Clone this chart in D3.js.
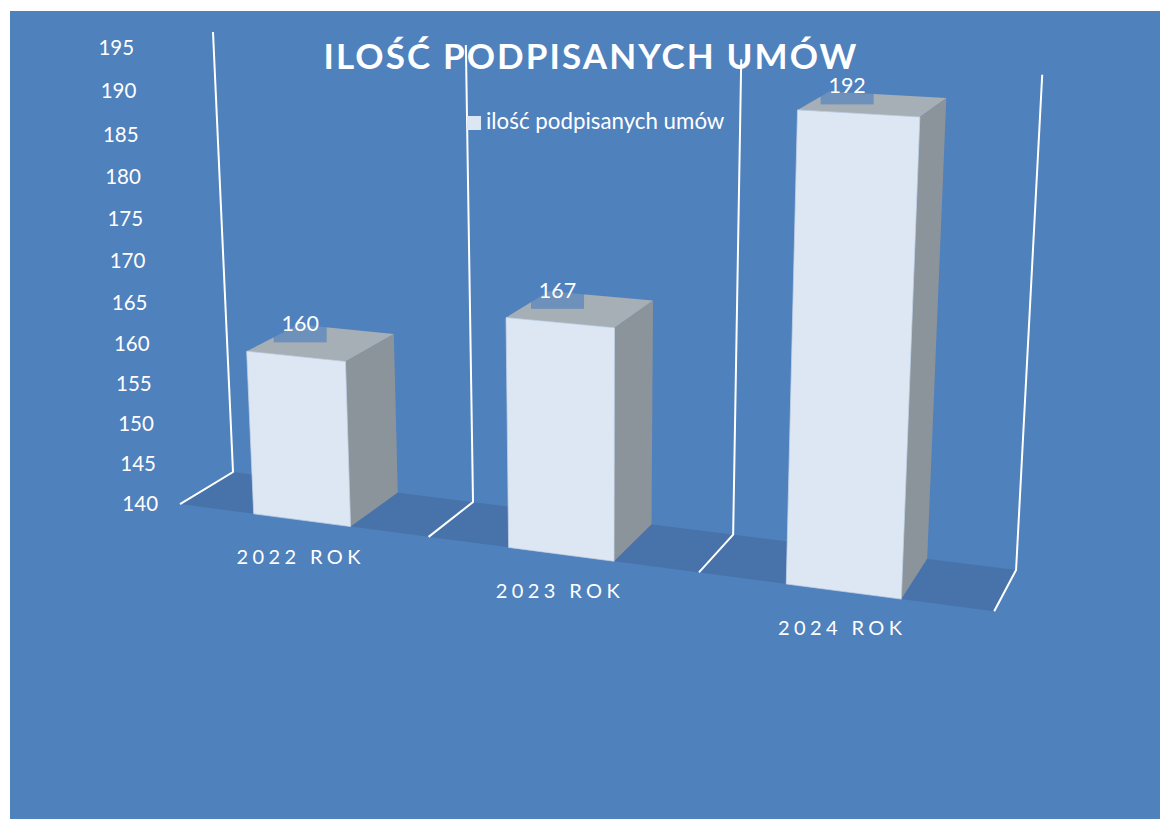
<!doctype html>
<html>
  <head>
    <meta charset="utf-8">
    <script src="https://cdnjs.cloudflare.com/ajax/libs/d3/7.8.5/d3.min.js"></script>
    <style>
      html, body { margin: 0; padding: 0; background: #fff; }
      svg { display: block; }
      text { font-family: Lato, "Open Sans", sans-serif; fill: #fff; }
    </style>
  </head>
  <body>
    <svg width="1160" height="819"></svg>
    <script>
      var title = "ILOŚĆ PODPISANYCH UMÓW";
      var seriesName = "ilość podpisanych umów";
      var categories = ["2022 ROK", "2023 ROK", "2024 ROK"];
      var values = [160, 167, 192];
      var tickValues = [140, 145, 150, 155, 160, 165, 170, 175, 180, 185, 190, 195];

      var svg = d3.select("svg");

      // u = position along the categories, v = height 0..1, d = depth (0 back, 1 front)
      var bandScale = d3.scaleBand()
        .domain(categories)
        .range([0, categories.length])
        .paddingInner(0.61)
        .paddingOuter(0.305);
      var valueScale = d3.scaleLinear().domain([140, 195]).range([0, 1]);

      // perspective of the 3d chart, fitted on the corners of the walls
      function project(u, v, d) {
        var w = 1 - 0.0387 * u - 0.052 * v - 0.0413 * d;
        return [
          (233 + 221.7 * u - 31.08 * v - 60.4 * d) / w,
          (472 + 10.6 * u - 441.66 * v + 11.3 * d) / w
        ];
      }
      var poly = pts => pts.map(p => project(p[0], p[1], p[2]).join(",")).join(" ");

      svg.append("rect")
        .attr("x", 10).attr("y", 11)
        .attr("width", 1150).attr("height", 808)
        .attr("fill", "#4f81bd");

      var n = categories.length;
      var walls = d3.range(n + 1);

      // floor
      svg.append("polygon")
        .attr("points", poly([[0, 0, 0], [n, 0, 0], [n, 0, 1], [0, 0, 1]]))
        .attr("fill", "#4773aa");

      // walls
      svg.selectAll("polyline.wall")
        .data(walls)
        .enter()
        .append("polyline")
          .attr("class", "wall")
          .attr("points", u => poly([[u, 1, 0], [u, 0, 0], [u, 0, 1]]))
          .attr("fill", "none")
          .attr("stroke", "#fff")
          .attr("stroke-width", 2);

      // bars
      var bars = svg.selectAll("g.bar")
        .data(values)
        .enter()
        .append("g")
          .attr("class", "bar");

      var u0 = (d, i) => bandScale(categories[i]);
      var u1 = (d, i) => bandScale(categories[i]) + bandScale.bandwidth();
      var uc = (d, i) => bandScale(categories[i]) + bandScale.bandwidth() / 2;

      bars.append("polygon")
        .attr("points", (d, i) => {
          var v = valueScale(d);
          return poly([[u1(d, i), 0, 1], [u1(d, i), 0, 0], [u1(d, i), v, 0], [u1(d, i), v, 1]]);
        })
        .attr("fill", "#8b939b");
      bars.append("polygon")
        .attr("points", (d, i) => {
          var v = valueScale(d);
          return poly([[u0(d, i), v, 1], [u0(d, i), v, 0], [u1(d, i), v, 0], [u1(d, i), v, 1]]);
        })
        .attr("fill", "#a6aeb6");
      bars.append("polygon")
        .attr("points", (d, i) => {
          var v = valueScale(d);
          return poly([[u0(d, i), 0, 1], [u1(d, i), 0, 1], [u1(d, i), v, 1], [u0(d, i), v, 1]]);
        })
        .attr("fill", "#dde7f3")
        .attr("stroke", "#c5d3e6")
        .attr("stroke-width", 0.75);

      // data labels sit a bit left of the middle of the top face
      var labelPos = (d, i) => project(uc(d, i) - 0.085, valueScale(d), 0.5);
      bars.append("rect")
        .attr("x", (d, i) => labelPos(d, i)[0] - 26.5)
        .attr("y", (d, i) => labelPos(d, i)[1] - 23)
        .attr("width", 53)
        .attr("height", 25)
        .attr("fill", "#4f81bd")
        .attr("opacity", 0.65);
      bars.append("text")
        .attr("x", (d, i) => labelPos(d, i)[0])
        .attr("y", (d, i) => labelPos(d, i)[1] - 9)
        .attr("text-anchor", "middle")
        .attr("font-size", 21.5)
        .text(d => d);

      // value axis
      svg.selectAll("text.tick")
        .data(tickValues)
        .enter()
        .append("text")
          .attr("class", "tick")
          .attr("x", d => project(0, valueScale(d), 1)[0] - 22)
          .attr("y", d => project(0, valueScale(d) * 0.995, 1)[1] + 6.5)
          .attr("text-anchor", "end")
          .attr("font-size", 20.5)
          .text(d => d);

      // category axis
      svg.selectAll("text.cat")
        .data(categories)
        .enter()
        .append("text")
          .attr("class", "cat")
          .attr("x", (d, i) => project(uc(d, i), 0, 1)[0] - 1)
          .attr("y", (d, i) => project(uc(d, i), 0, 1)[1] + 44)
          .attr("text-anchor", "middle")
          .attr("font-size", 20)
          .attr("letter-spacing", 4.4)
          .text(d => d);

      // title
      svg.append("text")
        .attr("x", 591)
        .attr("y", 69)
        .attr("text-anchor", "middle")
        .attr("font-size", 35)
        .attr("font-weight", 700)
        .attr("letter-spacing", 2.1)
        .text(title);

      // legend
      svg.append("rect")
        .attr("x", 467).attr("y", 116)
        .attr("width", 14).attr("height", 14)
        .attr("fill", "#dde7f3");
      svg.append("text")
        .attr("x", 486)
        .attr("y", 129)
        .attr("font-size", 22.3)
        .text(seriesName);
    </script>
  </body>
</html>
